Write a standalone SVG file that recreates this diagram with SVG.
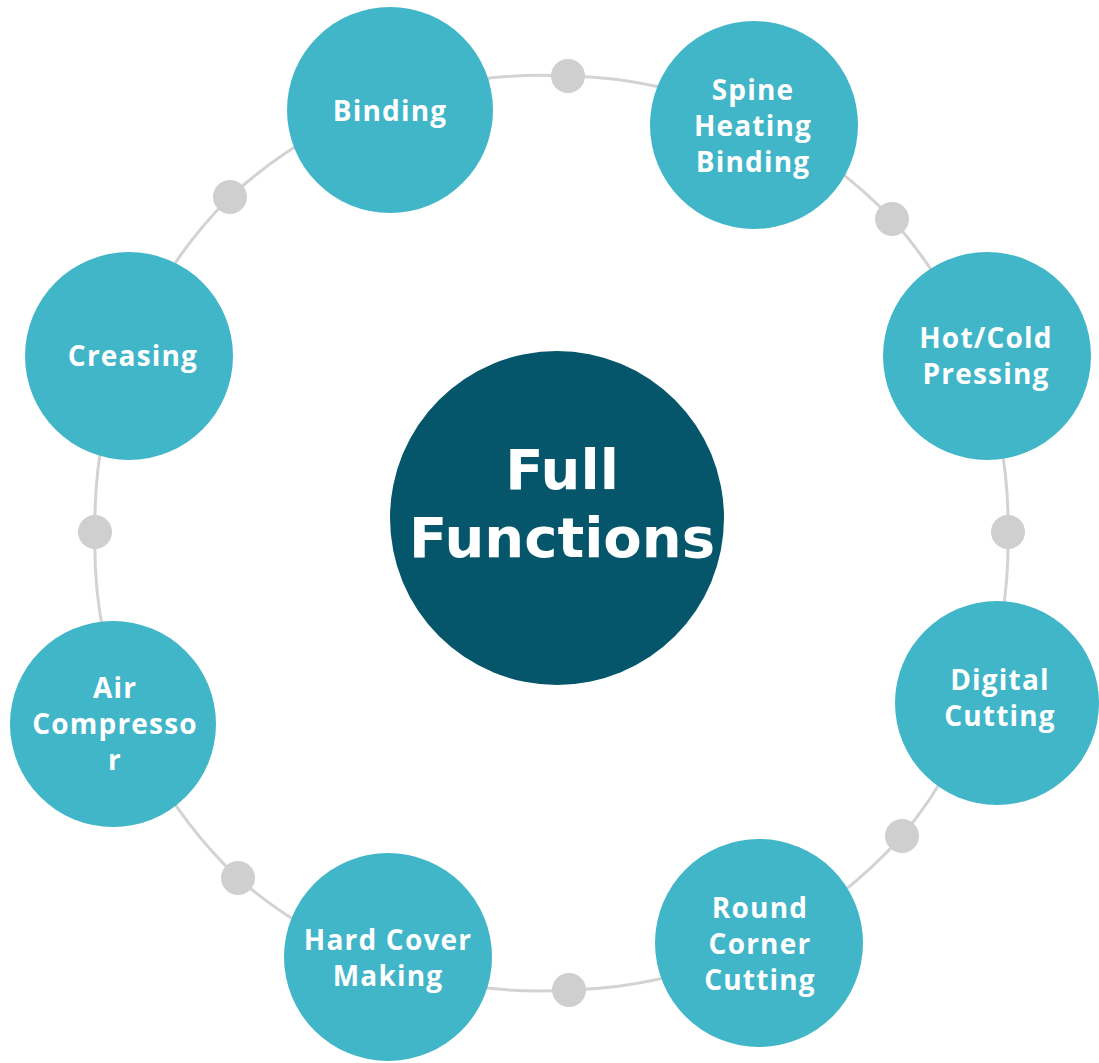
<svg xmlns="http://www.w3.org/2000/svg" width="1099" height="1063" viewBox="0 0 1099 1063">
<style>
.node{fill:#41b6c8}
.hub{fill:#06566b}
.lbl{font-family:"Open Sans",Lato,"Liberation Sans",sans-serif;font-weight:bold;font-size:28px;letter-spacing:1.2px;fill:#ffffff;text-anchor:middle}
.hublbl{font-family:"DejaVu Sans",Verdana,sans-serif;font-weight:bold;font-size:56px;fill:#ffffff;text-anchor:middle}
.ring{fill:none;stroke:#d3d3d3;stroke-width:3}
.dot{fill:#cfcfcf}
</style>
<rect width="1099" height="1063" fill="#ffffff"/>
<g id="connectors">
<path class="ring" d="M568,76 A460,460 0 0 1 892,219 A460,460 0 0 1 1008,532 A460,460 0 0 1 902,836 A460,460 0 0 1 569,990 A460,460 0 0 1 238,878 A460,460 0 0 1 95,532 A460,460 0 0 1 230,197 A460,460 0 0 1 568,76 Z"/>
<circle class="dot" cx="568" cy="76" r="17"/>
<circle class="dot" cx="892" cy="219" r="17"/>
<circle class="dot" cx="1008" cy="532" r="17"/>
<circle class="dot" cx="902" cy="836" r="17"/>
<circle class="dot" cx="569" cy="990" r="17"/>
<circle class="dot" cx="238" cy="878" r="17"/>
<circle class="dot" cx="95" cy="532" r="17"/>
<circle class="dot" cx="230" cy="197" r="17"/>
</g>
<g id="hub">
<circle class="hub" cx="557" cy="518" r="167"/>
<text class="hublbl" x="562" y="489">Full</text>
<text class="hublbl" x="562" y="557">Functions</text>
</g>
<g id="binding">
<circle class="node" cx="390" cy="110" r="103"/>
<text class="lbl" x="390" y="121">Binding</text>
</g>
<g id="spine">
<circle class="node" cx="754" cy="125" r="104"/>
<text class="lbl" x="753" y="100">Spine</text>
<text class="lbl" x="753" y="136">Heating</text>
<text class="lbl" x="753" y="172">Binding</text>
</g>
<g id="hotcold">
<circle class="node" cx="987" cy="356" r="104"/>
<text class="lbl" x="986" y="348">Hot/Cold</text>
<text class="lbl" x="986" y="384">Pressing</text>
</g>
<g id="digital">
<circle class="node" cx="997" cy="703" r="102"/>
<text class="lbl" x="1000" y="690">Digital</text>
<text class="lbl" x="1000" y="726">Cutting</text>
</g>
<g id="roundcorner">
<circle class="node" cx="759" cy="943" r="104"/>
<text class="lbl" x="760" y="918">Round</text>
<text class="lbl" x="760" y="954">Corner</text>
<text class="lbl" x="760" y="990">Cutting</text>
</g>
<g id="hardcover">
<circle class="node" cx="388" cy="957" r="104"/>
<text class="lbl" x="388" y="950">Hard Cover</text>
<text class="lbl" x="388" y="986">Making</text>
</g>
<g id="air">
<circle class="node" cx="113" cy="724" r="103"/>
<text class="lbl" x="115" y="698">Air</text>
<text class="lbl" x="115" y="734">Compresso</text>
<text class="lbl" x="115" y="770">r</text>
</g>
<g id="creasing">
<circle class="node" cx="129" cy="356" r="104"/>
<text class="lbl" x="133" y="366">Creasing</text>
</g>
</svg>
